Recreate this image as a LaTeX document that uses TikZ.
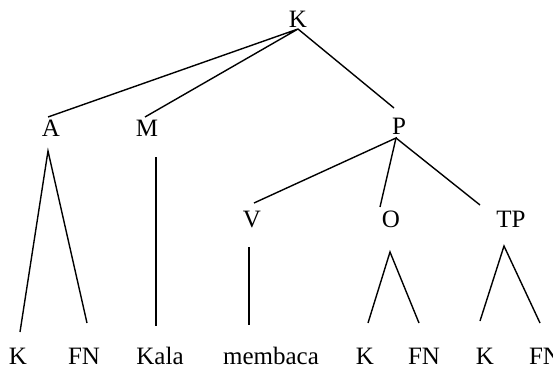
\documentclass[tikz,border=0pt]{standalone}
\usepackage{fontspec}
\setmainfont{Liberation Serif}
\begin{document}
\begin{tikzpicture}[x=1pt,y=-1pt,
  lbl/.style={anchor=base,inner sep=0pt,font=\fontsize{25}{30}\selectfont},
  edge/.style={line width=1.4pt}]
\useasboundingbox (0,0) rectangle (553,366);
% labels
\node[lbl] (K0) at (298,28) {K};
\node[lbl] (A) at (51,136) {A};
\node[lbl] (M) at (147,136) {M};
\node[lbl] (P) at (399,135) {P};
\node[lbl] (V) at (252,227) {V};
\node[lbl] (O) at (391,227) {O};
\node[lbl] (TP) at (511,227) {TP};
\node[lbl] (K1) at (18,364) {K};
\node[lbl] (FN1) at (84,364) {FN};
\node[lbl] (Kala) at (160,364) {Kala};
\node[lbl] (memb) at (271,364) {membaca};
\node[lbl] (K2) at (365,364) {K};
\node[lbl] (FN2) at (424,364) {FN};
\node[lbl] (K3) at (485,364) {K};
\node[lbl] (FN3) at (545,364) {FN};
% connector ends
\coordinate (k0b) at (298,29);
\coordinate (at) at (48,117);
\coordinate (mt) at (145,117);
\coordinate (pt) at (394,108);
\coordinate (ab) at (48,151);
\coordinate (k1t) at (20,332);
\coordinate (fn1t) at (87,323);
\coordinate (mb) at (156,157);
\coordinate (kalat) at (156,326);
\coordinate (pb) at (396,138);
\coordinate (vt) at (254,203);
\coordinate (ot) at (380,207);
\coordinate (tpt) at (480,205);
\coordinate (vb) at (249,247);
\coordinate (membt) at (249,325);
\coordinate (ob) at (390,252);
\coordinate (k2t) at (368,323);
\coordinate (fn2t) at (419,323);
\coordinate (tpb) at (504,246);
\coordinate (k3t) at (480,321);
\coordinate (fn3t) at (540,323);
% connectors
\draw[edge] (at) -- (k0b) -- (mt);
\draw[edge] (k0b) -- (pt);
\draw[edge] (k1t) -- (ab) -- (fn1t);
\draw[edge] (mb) -- (kalat);
\draw[edge] (vt) -- (pb) -- (ot);
\draw[edge] (pb) -- (tpt);
\draw[edge] (vb) -- (membt);
\draw[edge] (k2t) -- (ob) -- (fn2t);
\draw[edge] (k3t) -- (tpb) -- (fn3t);
\end{tikzpicture}
\end{document}
